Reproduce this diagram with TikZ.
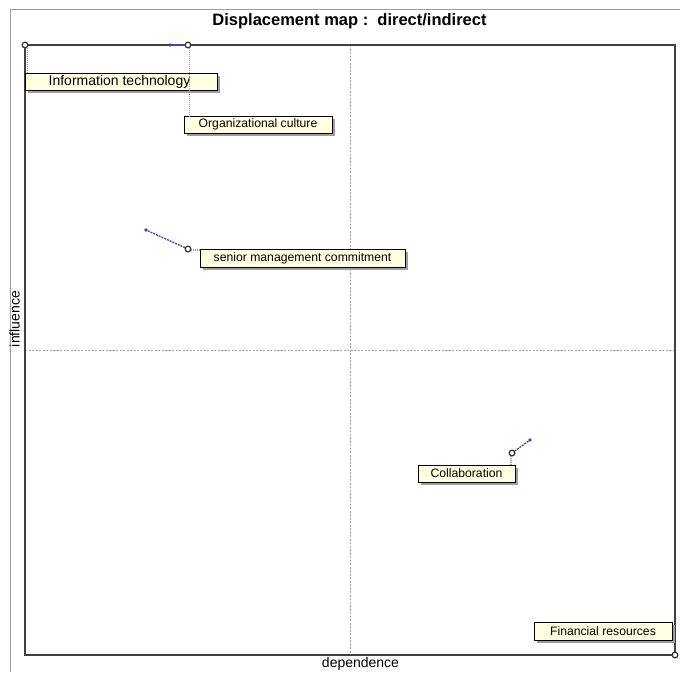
\documentclass[tikz,border=0pt]{standalone}
\usepackage{fontspec}
\setmainfont{Liberation Sans}
\usetikzlibrary{shadows}
\definecolor{cream}{HTML}{FFFFE1}
\definecolor{frame}{HTML}{404040}
\definecolor{mv}{HTML}{3A4AB0}
\tikzset{
  lbl/.style={draw=black, line width=0.9pt, fill=cream, inner sep=0pt,
    font=\fontsize{12.2}{14}\selectfont,
    drop shadow={shadow xshift=2.5pt, shadow yshift=-2.5pt, fill=gray!75, opacity=1}},
  pt/.style={circle, draw=black!80, line width=1.1pt, fill=white, inner sep=0pt, minimum size=5.5pt},
  mvdot/.style={circle, fill=mv, inner sep=0pt, minimum size=3.6pt},
  mvline/.style={mv, line width=1.3pt, dash pattern=on 2pt off 1pt},
  leader/.style={gray!80, line width=1.4pt, dash pattern=on 1pt off 1pt},
}
\begin{document}
\begin{tikzpicture}[x=1pt,y=-1pt]
\useasboundingbox (0,0) rectangle (680,672);
% outer frame
\draw[gray!75, line width=1pt] (10.5,672) -- (10.5,9.5) -- (680,9.5);
% title
\node (title) at (349.5,21) {\fontsize{16.5}{18}\selectfont\bfseries Displacement map :\ \ direct/indirect};
% plot area
\draw[gray!70, line width=0.8pt, dash pattern=on 2pt off 1.5pt] (350,45) -- (350,655);
\draw[gray!70, line width=0.8pt, dash pattern=on 2pt off 1.5pt] (25,350) -- (675,350);
\draw[frame, line width=1.6pt] (25,45) rectangle (675,655);
% axis labels
\node[rotate=90, font=\fontsize{14}{16}\selectfont] (infl) at (14.5,319) {influence};
\node[font=\fontsize{14}{16}\selectfont] (dep) at (360.5,664) {dependence};
% points
\node[pt] (pIT) at (25,45) {};
\node[pt] (pOC) at (188,45) {};
\node[pt] (pSM) at (188,249) {};
\node[pt] (pCO) at (512,453) {};
\node[pt] (pFR) at (675,655) {};
% displacement starts
\node[mvdot] (sOC) at (170,45) {};
\node[mvdot] (sSM) at (146,230) {};
\node[mvdot] (sCO) at (530,440) {};
\draw[mv, line width=1.4pt] (sOC) -- (pOC);
\draw[mvline] (sSM) -- (pSM);
\draw[mvline] (sCO) -- (pCO);
% labels
\node[lbl, minimum width=192pt, minimum height=17pt, font=\fontsize{14}{16}\selectfont] (lIT) at (121,81.5) {\hspace*{-3pt}Information technology};
\node[lbl, minimum width=148pt, minimum height=17pt] (lOC) at (258,124.5) {Organizational culture};
\node[lbl, minimum width=205pt, minimum height=18pt] (lSM) at (302.5,258) {senior management commitment};
\node[lbl, minimum width=97pt, minimum height=17pt] (lCO) at (466.5,473.5) {Collaboration};
\node[lbl, minimum width=138pt, minimum height=18pt] (lFR) at (603,631) {Financial resources};
% leader ends
\coordinate (eIT) at (27.5,73);
\coordinate (eOC) at (189.5,116);
\coordinate (eSM) at (200,250);
\coordinate (eCO) at (511,465);
% leaders
\draw[leader] (pIT) ++(2.5,2.5) -- (eIT);
\draw[leader] (pOC) ++(1.5,2.5) -- (eOC);
\draw[leader] (pSM) ++(2.5,1) -- (eSM);
\draw[leader] (pCO) ++(-1,2.5) -- (eCO);
% redraw points on top
\node[pt] at (pIT) {};
\node[pt] at (pOC) {};
\node[pt] at (pSM) {};
\node[pt] at (pCO) {};
\node[pt] at (pFR) {};
\end{tikzpicture}
\end{document}
